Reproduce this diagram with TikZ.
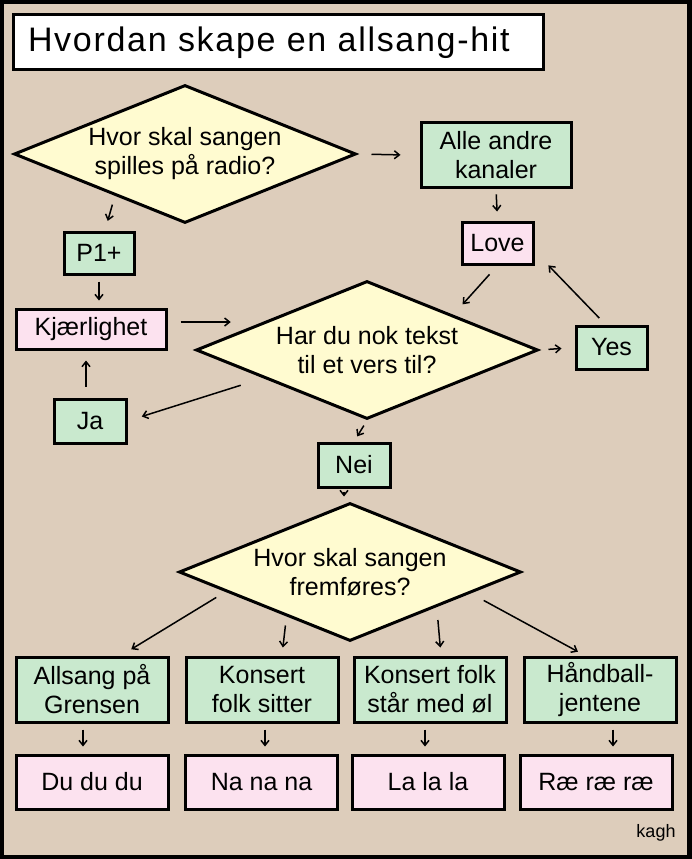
\documentclass[tikz,border=0pt]{standalone}
\usepackage{fontspec}
\setmainfont{Liberation Sans}
\newfontfamily\titlefont[LetterSpace=5]{Liberation Sans}
\usetikzlibrary{shapes.geometric, arrows.meta}
\definecolor{sandbg}{RGB}{221,205,187}
\definecolor{quizyellow}{RGB}{255,251,208}
\definecolor{choicegreen}{RGB}{201,233,206}
\definecolor{songpink}{RGB}{252,226,239}

\begin{document}
\begin{tikzpicture}[x=1pt,y=-1pt,
    question/.style={diamond,aspect=2.48,draw=black,fill=quizyellow,line width=3pt,
          minimum width=342pt,minimum height=138pt,inner sep=0pt,align=center,
          font=\fontsize{25}{29}\selectfont},
    box/.style={rectangle,draw=black,line width=3pt,inner sep=0pt,align=center,
          font=\fontsize{25}{29}\selectfont},
    choice/.style={box,fill=choicegreen},
    song/.style={box,fill=songpink},
    arr/.style={-{Straight Barb[length=5pt,width=8pt]},line width=1.5pt}]
    % frame and background
    \fill[black] (0,0) rectangle (692,859);
    \fill[sandbg] (4,4) rectangle (687,855);
    \node[box,fill=white,minimum width=530pt,minimum height=55pt,text width=500pt,
          align=left,font=\titlefont\fontsize{34}{40}\selectfont] (title) at (278,42.5)
          {Hvordan skape en allsang-hit};
    % radio question
    \node[question] (q1) at (185,154) {Hvor skal sangen\\spilles på radio?};
    \node[choice,minimum width=150pt,minimum height=65pt] (alle) at (496,155.3) {Alle andre\\kanaler};
    \node[song,minimum width=71pt,minimum height=42pt] (love) at (497.5,243) {Love};
    \node[choice,minimum width=70pt,minimum height=42pt] (p1) at (99,253) {P1+};
    \node[song,minimum width=150pt,minimum height=40pt] (kj) at (91,329) {Kjærlighet};
    % verse question
    \node[question] (q2) at (367,350) {Har du nok tekst\\til et vers til?};
    \node[choice,minimum width=71pt,minimum height=43pt] (yes) at (611.5,347.5) {Yes};
    \node[choice,minimum width=72pt,minimum height=44pt] (ja) at (90,421) {Ja};
    \node[choice,minimum width=72pt,minimum height=44pt] (nei) at (354,465) {Nei};
    % where to perform
    \node[question] (q3) at (350,572) {Hvor skal sangen\\fremføres?};
    \node[choice,minimum width=152pt,minimum height=65pt] (b1) at (92,689.5) {Allsang på\\Grensen};
    \node[choice,minimum width=152pt,minimum height=65pt] (b2) at (262,689.5) {Konsert\\folk sitter};
    \node[choice,minimum width=152pt,minimum height=65pt] (b3) at (430,689.5) {Konsert folk\\står med øl};
    \node[choice,minimum width=152pt,minimum height=65pt] (b4) at (600,689.5) {Håndball-\\jentene};
    \node[song,minimum width=152pt,minimum height=54pt] (c1) at (92,782) {Du du du};
    \node[song,minimum width=152pt,minimum height=54pt] (c2) at (261.5,782) {Na na na};
    \node[song,minimum width=152pt,minimum height=54pt] (c3) at (428,782) {La la la};
    \node[song,minimum width=152pt,minimum height=54pt] (c4) at (596,782) {Ræ ræ ræ};
    \node[font=\fontsize{18}{20}\selectfont] (sign) at (656,833) {kagh};
    % arrows
    \draw[arr,shorten <=14pt,shorten >=19pt] (q1.east) -- (alle.west);
    \draw[arr,shorten <=5pt,shorten >=9pt] (alle.south) -- (love.north);
    \draw[arr,shorten <=12pt,shorten >=14pt] (love.south) -- (q2.north east);
    \draw[arr,shorten <=9pt,shorten >=20pt] ([xshift=-6pt]yes.north) -- ([yshift=-8pt]love.east);
    \draw[arr,shorten <=9pt,shorten >=13pt] (q2.east) -- (yes.west);
    \draw[arr,shorten <=16pt,shorten >=10pt] ([xshift=18pt]q1.south west) -- ([xshift=6pt]p1.north);
    \draw[arr,shorten <=6pt,shorten >=7pt] (p1.south) -- (p1.south |- kj.north);
    \draw[arr,shorten <=13pt,shorten >=50pt] ([yshift=7pt]kj.east) -- ([yshift=7pt]kj.east -| q2.north west);
    \draw[arr,shorten >=15pt] ([xshift=-40pt]q2.south west) -- (ja.east);
    \draw[arr,shorten <=11pt,shorten >=10pt] ([xshift=-4pt]ja.north) -- ([xshift=-4pt]ja.north |- kj.south);
    \draw[arr,shorten <=6pt,shorten >=6pt] (q2.south) -- (nei.north);
    \draw[arr,shorten <=3pt,shorten >=5pt] ([xshift=-10pt]nei.south) -- ([xshift=-10pt]nei.south |- q3.north);
    \draw[arr,shorten <=11pt,shorten >=12pt] (q3.-171) -- ([xshift=29pt]b1.north);
    \draw[arr,shorten <=9pt,shorten >=8pt] (q3.-145) -- ([xshift=20pt]b2.north);
    \draw[arr,shorten <=13pt,shorten >=8pt] (q3.-22) -- ([xshift=11pt]b3.north);
    \draw[arr,shorten <=15pt,shorten >=8pt] (q3.-10) -- ([xshift=-15pt]b4.north);
    \draw[arr,shorten <=6pt,shorten >=7pt] ([xshift=-9pt]b1.south) -- ([xshift=-9pt]c1.north);
    \draw[arr,shorten <=6pt,shorten >=7pt] ([xshift=3pt]b2.south) -- ([xshift=3pt]b2.south |- c2.north);
    \draw[arr,shorten <=6pt,shorten >=7pt] ([xshift=-5pt]b3.south) -- ([xshift=-5pt]b3.south |- c3.north);
    \draw[arr,shorten <=6pt,shorten >=7pt] ([xshift=13pt]b4.south) -- ([xshift=13pt]b4.south |- c4.north);
\end{tikzpicture}
\end{document}
